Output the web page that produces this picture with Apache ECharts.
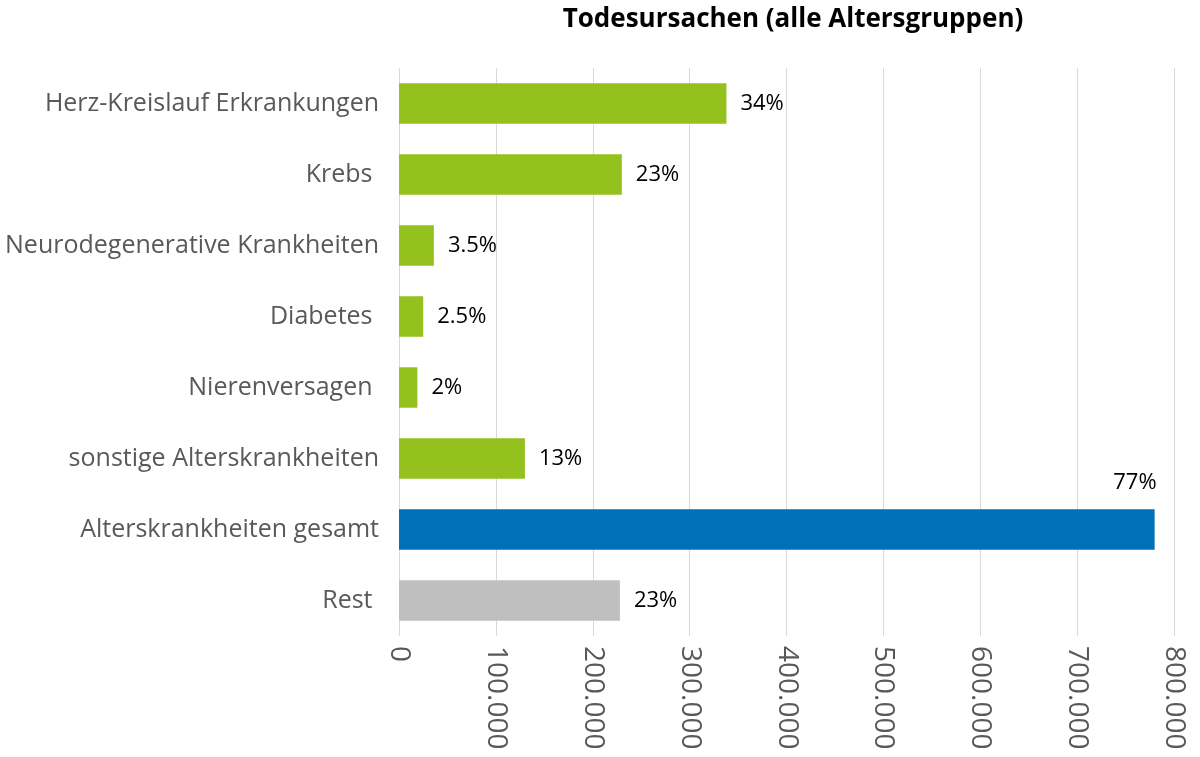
<!DOCTYPE html>
<html lang="de">
  <head>
    <meta charset="UTF-8" />
    <title>Todesursachen</title>
    <script src="https://cdn.jsdelivr.net/npm/echarts@6/dist/echarts.min.js"></script>
    <style>
      html,
      body {
        margin: 0;
        padding: 0;
        background: #fff;
      }
      #chart {
        width: 1200px;
        height: 757px;
      }
    </style>
  </head>
  <body>
    <div id="chart"></div>
    <script>
      var categories = [
        "Herz-Kreislauf Erkrankungen",
        "Krebs ",
        "Neurodegenerative Krankheiten",
        "Diabetes ",
        "Nierenversagen ",
        "sonstige Alterskrankheiten",
        "Alterskrankheiten gesamt",
        "Rest ",
      ];
      var deaths = [338000, 230000, 36000, 25000, 19000, 130000, 780000, 228000];
      var shares = ["34%", "23%", "3.5%", "2.5%", "2%", "13%", "77%", "23%"];
      var barColors = [
        "#95C11F",
        "#95C11F",
        "#95C11F",
        "#95C11F",
        "#95C11F",
        "#95C11F",
        "#0070BA",
        "#BFBFBF",
      ];

      var chart = echarts.init(document.getElementById("chart"));
      var font = "'Open Sans', sans-serif";

      var seriesData = deaths.map(function (v, i) {
        var item = {
          value: v,
          itemStyle: { color: barColors[i] },
        };
        // Gesamt-Balken: Beschriftung oberhalb am Balkenende
        if (i === 6) {
          item.label = {
            position: ["100%", 0],
            align: "right",
            verticalAlign: "bottom",
            offset: [2, -16],
          };
        }
        return item;
      });

      chart.setOption({
        textStyle: { fontFamily: font },
        title: {
          text: "Todesursachen (alle Altersgruppen)",
          left: 788,
          top: 2,
          textAlign: "center",
          textStyle: {
            fontFamily: font,
            fontSize: 26,
            fontWeight: "bold",
            color: "#000",
          },
        },
        grid: {
          left: 399,
          right: 26,
          top: 68,
          bottom: 121,
          containLabel: false,
        },
        xAxis: {
          type: "value",
          min: 0,
          max: 800000,
          interval: 100000,
          axisLine: { show: false },
          axisTick: { show: false },
          splitLine: { show: true, lineStyle: { color: "#D9D9D9", width: 1 } },
          axisLabel: {
            rotate: -90,
            margin: 10,
            fontSize: 28,
            color: "#595959",
            fontFamily: font,
            formatter: function (v) {
              return v === 0 ? "0" : v.toLocaleString("de-DE");
            },
          },
        },
        yAxis: {
          type: "category",
          inverse: true,
          data: categories,
          axisLine: { show: false },
          axisTick: { show: false },
          axisLabel: {
            margin: 20,
            fontSize: 25,
            color: "#595959",
            fontFamily: font,
          },
        },
        series: [
          {
            type: "bar",
            data: seriesData,
            barCategoryGap: "43%",
            label: {
              show: true,
              position: "right",
              distance: 14,
              fontSize: 22,
              color: "#000",
              fontFamily: font,
              formatter: function (p) {
                return shares[p.dataIndex];
              },
            },
          },
        ],
      });
    </script>
  </body>
</html>
